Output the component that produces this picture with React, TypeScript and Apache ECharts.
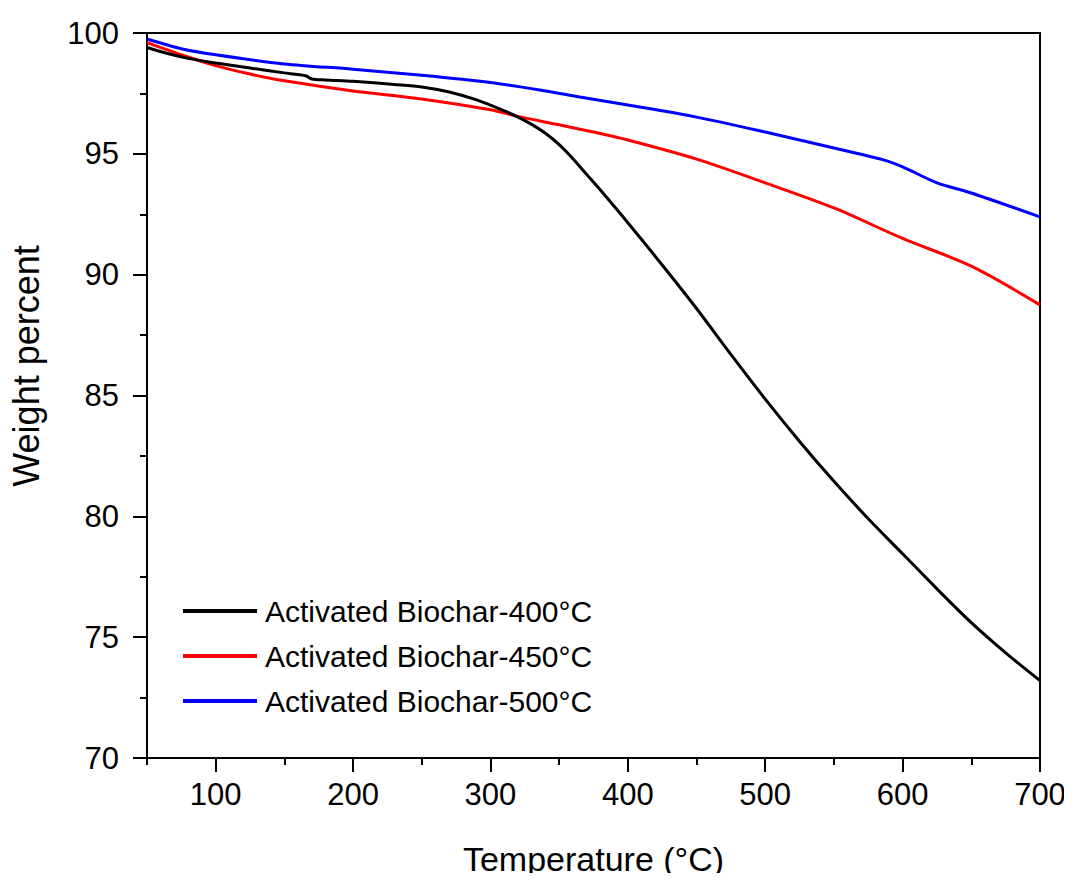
import React, { useEffect, useRef } from "react";
import * as echarts from "echarts";

const temp400 = [50, 65, 80, 100, 125, 150, 160, 166, 170, 180, 200, 230, 250, 270, 290, 310, 320, 330, 340, 350, 360, 370, 380, 400, 425, 450, 475, 500, 525, 550, 575, 600, 625, 650, 675, 700];
const weight400 = [99.4, 99.15, 98.95, 98.76, 98.55, 98.35, 98.28, 98.22, 98.1, 98.06, 98.0, 97.87, 97.77, 97.56, 97.23, 96.78, 96.52, 96.22, 95.85, 95.38, 94.8, 94.15, 93.5, 92.15, 90.4, 88.6, 86.7, 84.85, 83.1, 81.45, 79.9, 78.45, 77.0, 75.6, 74.35, 73.2];

const temp450 = [50, 75, 100, 125, 150, 200, 250, 300, 320, 350, 375, 400, 450, 500, 550, 600, 650, 700];
const weight450 = [99.6, 99.1, 98.65, 98.3, 98.02, 97.6, 97.27, 96.82, 96.55, 96.2, 95.9, 95.57, 94.78, 93.8, 92.76, 91.5, 90.35, 88.75];

const temp500 = [50, 75, 100, 150, 200, 250, 300, 336, 365, 400, 450, 500, 550, 586, 600, 625, 650, 700];
const weight500 = [99.75, 99.35, 99.1, 98.72, 98.5, 98.25, 97.95, 97.64, 97.35, 97.02, 96.52, 95.9, 95.24, 94.75, 94.46, 93.8, 93.38, 92.39];

const seriesNames = ["Activated Biochar-400°C", "Activated Biochar-450°C", "Activated Biochar-500°C"];
const seriesColors = ["#000000", "#ff0000", "#0000ff"];
const xTitle = "Temperature (°C)";
const yTitle = "Weight percent";

const FONT = "'Liberation Sans', Arial, sans-serif";

function zip(xs: number[], ys: number[]) {
  return xs.map((x, i) => [x, ys[i]]);
}

export default function App() {
  const ref = useRef<HTMLDivElement>(null);
  useEffect(() => {
    if (!ref.current) return;
    const chart = echarts.init(ref.current, null, { renderer: "svg" });
    const datasets = [zip(temp400, weight400), zip(temp450, weight450), zip(temp500, weight500)];
    const plotLeft = 147;
    const plotRight = 32;
    const plotWidth = 1072 - plotLeft - plotRight;
    // secondary grid starting at x = 100 so its ticks fall on multiples of 100
    const left100 = plotLeft + (50 / 650) * plotWidth;
    chart.setOption({
      animation: false,
      backgroundColor: "#ffffff",
      grid: [
        {
          left: plotLeft,
          top: 33,
          right: plotRight,
          bottom: 123,
          show: true,
          borderColor: "#000",
          borderWidth: 2,
          backgroundColor: "transparent",
        },
        { left: left100, top: 33, right: plotRight, bottom: 123, show: false },
      ],
      legend: {
        orient: "vertical",
        left: 178,
        top: 591,
        icon: "rect",
        itemWidth: 74,
        itemHeight: 4,
        itemGap: 15,
        data: seriesNames,
        textStyle: {
          fontFamily: FONT,
          fontSize: 30,
          color: "#000",
          lineHeight: 30,
          padding: [0, 0, 0, 3],
        },
      },
      graphic: [
        {
          type: "text",
          x: 26,
          y: 366,
          rotation: Math.PI / 2,
          style: {
            text: yTitle,
            fontFamily: FONT,
            fontSize: 36,
            fill: "#000",
            textAlign: "center",
            textVerticalAlign: "middle",
          },
        },
      ],
      xAxis: [
        {
          type: "value",
          gridIndex: 0,
          min: 50,
          max: 700,
          interval: 50,
          name: xTitle,
          nameLocation: "middle",
          nameGap: 84,
          nameTextStyle: { fontFamily: FONT, fontSize: 34, color: "#000" },
          axisLine: { show: true, lineStyle: { color: "#000", width: 2 } },
          axisTick: { show: true, length: 7, lineStyle: { color: "#000", width: 2 } },
          axisLabel: { show: false },
          splitLine: { show: false },
        },
        {
          type: "value",
          gridIndex: 1,
          min: 100,
          max: 700,
          interval: 100,
          position: "bottom",
          axisLine: { show: false },
          axisTick: { show: true, length: 14, lineStyle: { color: "#000", width: 2 } },
          axisLabel: { margin: 21, fontFamily: FONT, fontSize: 31, color: "#000" },
          splitLine: { show: false },
        },
      ],
      yAxis: [
        {
          type: "value",
          gridIndex: 0,
          min: 70,
          max: 100,
          interval: 5,
          axisLine: { show: true, lineStyle: { color: "#000", width: 2 } },
          axisTick: { show: true, inside: false, length: 14, lineStyle: { color: "#000", width: 2 } },
          minorTick: { show: true, splitNumber: 2, length: 7, lineStyle: { color: "#000", width: 2 } },
          axisLabel: { margin: 28, fontFamily: FONT, fontSize: 31, color: "#000" },
          splitLine: { show: false },
        },
        {
          type: "value",
          gridIndex: 1,
          min: 70,
          max: 100,
          show: false,
        },
      ],
      series: seriesNames.map((name, i) => ({
        name,
        type: "line",
        xAxisIndex: 0,
        yAxisIndex: 0,
        data: datasets[i],
        smooth: 0.3,
        showSymbol: false,
        symbol: "none",
        lineStyle: { color: seriesColors[i], width: 3 },
        itemStyle: { color: seriesColors[i] },
        z: 3 - i,
      })),
    });
    return () => chart.dispose();
  }, []);
  return <div ref={ref} style={{ width: 1072, height: 881, margin: -8 }} />;
}
